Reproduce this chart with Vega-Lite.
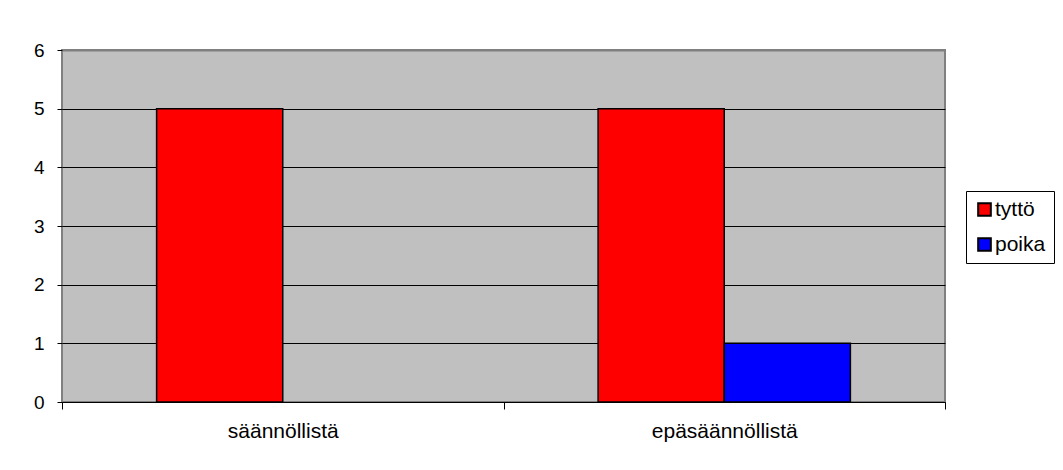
{
  "$schema": "https://vega.github.io/schema/vega-lite/v6.json",
  "width": 883,
  "height": 352,
  "autosize": {"type": "none"},
  "padding": {"left": 62, "top": 50, "right": 118, "bottom": 68},
  "background": "white",
  "config": {
    "font": "Liberation Sans",
    "view": {"fill": "#C0C0C0", "stroke": "#808080", "strokeWidth": 2}
  },
  "data": {
    "values": [
      {"kategoria": "säännöllistä", "sukupuoli": "tyttö", "arvo": 5},
      {"kategoria": "säännöllistä", "sukupuoli": "poika", "arvo": 0},
      {"kategoria": "epäsäännöllistä", "sukupuoli": "tyttö", "arvo": 5},
      {"kategoria": "epäsäännöllistä", "sukupuoli": "poika", "arvo": 1}
    ]
  },
  "mark": {"type": "bar", "stroke": "black", "strokeWidth": 1.5, "strokeOpacity": 1},
  "encoding": {
    "x": {
      "field": "kategoria",
      "type": "nominal",
      "sort": ["säännöllistä", "epäsäännöllistä"],
      "scale": {"paddingInner": 0, "paddingOuter": 0},
      "axis": {
        "title": null,
        "labelAngle": 0,
        "labelFontSize": 21,
        "labelColor": "black",
        "labelPadding": 11,
        "tickBand": "extent",
        "tickSize": 7,
        "tickColor": "black",
        "domainColor": "black",
        "domainWidth": 1,
        "grid": false
      }
    },
    "xOffset": {
      "field": "sukupuoli",
      "type": "nominal",
      "sort": ["tyttö", "poika"],
      "scale": {"domain": ["tyttö", "poika"], "paddingInner": 0, "paddingOuter": 0.75}
    },
    "y": {
      "field": "arvo",
      "type": "quantitative",
      "scale": {"domain": [0, 6], "nice": false},
      "axis": {
        "title": null,
        "values": [0, 1, 2, 3, 4, 5, 6],
        "labelFontSize": 19,
        "labelColor": "black",
        "labelPadding": 13,
        "tickSize": 5,
        "tickColor": "black",
        "tickWidth": 1,
        "domain": false,
        "grid": true,
        "gridColor": {"condition": {"test": "datum.value == 6", "value": "#808080"}, "value": "black"},
        "gridWidth": {"condition": {"test": "datum.value == 6", "value": 2}, "value": 1},
        "gridOpacity": 1
      }
    },
    "strokeOpacity": {
      "condition": {"test": "datum.arvo == 0", "value": 0},
      "value": 1
    },
    "color": {
      "field": "sukupuoli",
      "type": "nominal",
      "sort": ["tyttö", "poika"],
      "scale": {"domain": ["tyttö", "poika"], "range": ["#FF0000", "#0000FF"]},
      "legend": {
        "title": null,
        "orient": "none",
        "legendX": 904,
        "legendY": 141,
        "symbolType": "square",
        "symbolSize": 160,
        "symbolStrokeColor": "black",
        "symbolStrokeWidth": 2,
        "symbolOpacity": 1,
        "labelFontSize": 21,
        "labelColor": "black",
        "labelOffset": 0,
        "rowPadding": 13,
        "padding": 8,
        "strokeColor": "black",
        "fillColor": "white"
      }
    }
  }
}
